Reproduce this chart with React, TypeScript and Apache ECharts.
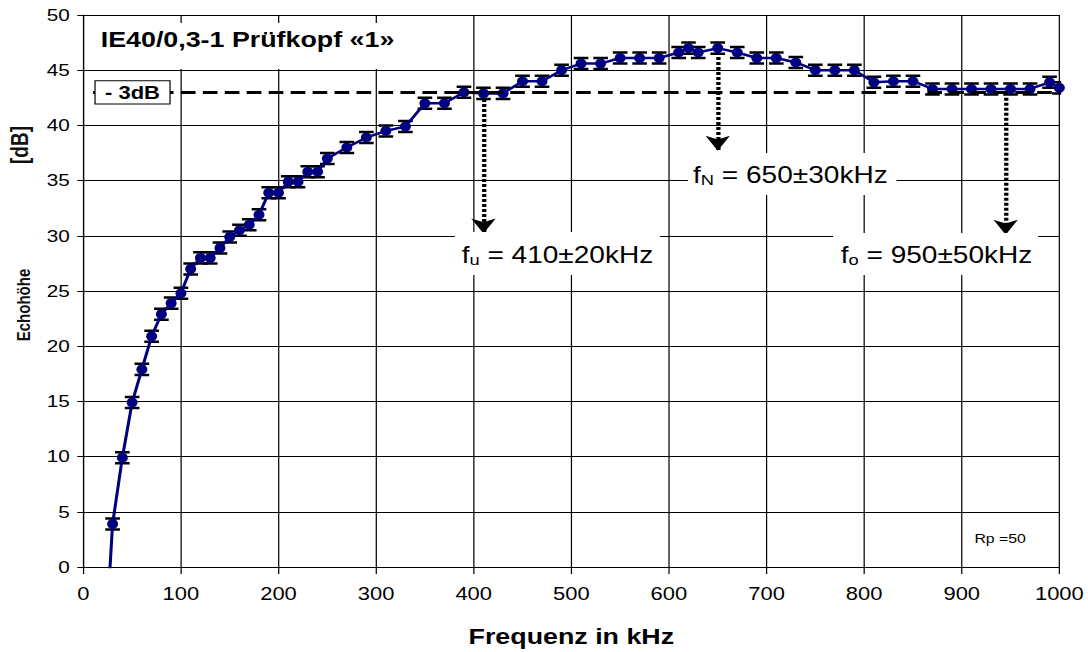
import React, { useEffect, useRef } from 'react';
import * as echarts from 'echarts';

// Horizontal stretch of the reference (it was widened), reproduced with a CSS scale
const CANVAS_W = 892;
const CANVAS_H = 652;
const STRETCH = 1088 / CANVAS_W;
const FONT = '"Liberation Sans", Arial, Helvetica, sans-serif';

const TITLE = 'IE40/0,3-1 Prüfkopf «1»';
const X_NAME = 'Frequenz in kHz';
const Y_NAME_PARTS = ['Echohöhe', '[dB]'];
const RP_NOTE = 'Rp =50';
const THRESHOLD_LABEL = '- 3dB';

const FREQ_KHZ = [
  20, 30, 40, 50, 60, 70, 80, 90, 100, 110, 120, 130, 140, 150, 160, 170, 180, 190, 200, 210,
  220, 230, 240, 250, 270, 290, 310, 330, 350, 370, 390, 410, 430, 450, 470, 490, 510, 530,
  550, 570, 590, 610, 620, 630, 650, 670, 690, 710, 730, 750, 770, 790, 810, 830, 850, 870,
  890, 910, 930, 950, 970, 990, 1000,
];
const LEVEL_DB = [
  -11, 3.9, 9.9, 14.9, 17.9, 20.9, 22.9, 23.9, 24.8, 27.0, 28.0, 28.0, 28.9, 29.9, 30.5, 31.0, 31.9, 33.9, 33.9, 34.9,
  34.9, 35.8, 35.8, 37.0, 38.0, 38.9, 39.5, 39.9, 42.0, 42.0, 43.0, 42.9, 42.9, 44.0, 44.0, 45.0, 45.6, 45.6,
  46.1, 46.1, 46.1, 46.6, 47.0, 46.6, 47.0, 46.6, 46.1, 46.1, 45.7, 45.0, 45.0, 45.0, 43.9, 44.0, 44.0, 43.3,
  43.3, 43.3, 43.3, 43.3, 43.3, 43.9, 43.4,
];
const ERROR_DB = 0.5;

const THRESHOLD_DB = 43;
const THRESHOLD_FROM_KHZ = 10;
const THRESHOLD_TO_KHZ = 1000;

// marker arrows: frequency, start level, end level
const ARROW_FREQ = [410, 650, 945];
const ARROW_FROM = [42.4, 46.2, 42.5];
const ARROW_TO = [30.2, 37.7, 30.1];

// annotation texts: main letter, subscript, rest
const NOTE_SUB = ['u', 'N', 'o'];
const NOTE_REST = [' = 410±20kHz', ' = 650±30kHz', ' = 950±50kHz'];

export default function App() {
  const ref = useRef<HTMLDivElement>(null);

  useEffect(() => {
    if (!ref.current) return;
    const chart = echarts.init(ref.current, undefined, { renderer: 'svg' });

    const lineData = FREQ_KHZ.map((f, i) => [f, LEVEL_DB[i]]);
    const errData = FREQ_KHZ.map((f, i) => [f, LEVEL_DB[i], ERROR_DB]);

    const markLines: any[] = [
      [
        { coord: [THRESHOLD_FROM_KHZ, THRESHOLD_DB], symbol: 'none', lineStyle: { type: [12, 6], width: 3, color: '#000' } },
        { coord: [THRESHOLD_TO_KHZ, THRESHOLD_DB], symbol: 'none' },
      ],
    ];
    ARROW_FREQ.forEach((f, i) => {
      markLines.push([
        { coord: [f, ARROW_FROM[i]], symbol: 'none', lineStyle: { type: [3, 2], width: 3.5, color: '#000' } },
        { coord: [f, ARROW_TO[i]], symbol: 'arrow', symbolSize: 15 },
      ]);
    });

    const boxes = [
      { x: 373, y: 232, w: 168, h: 43, tx: 378.5, ty: 255 },
      { x: 564, y: 153, w: 171, h: 42, tx: 568.2, ty: 174.5 },
      { x: 683, y: 233, w: 168, h: 42, tx: 689.3, ty: 255 },
    ];

    const graphic: any[] = [];
    // title
    graphic.push({ type: 'rect', z: 100, shape: { x: 72, y: 23, width: 264, height: 46 }, style: { fill: '#fff' } });
    graphic.push({
      type: 'text', z: 101, x: 82.6, y: 39,
      style: { text: TITLE, fontFamily: FONT, fontSize: 22, fontWeight: 'bold', fill: '#000', align: 'left', verticalAlign: 'middle' },
    });
    // -3dB label
    graphic.push({
      type: 'rect', z: 100, shape: { x: 77.9, y: 80.7, width: 61.5, height: 23.3 },
      style: { fill: '#fff', stroke: '#000', lineWidth: 1 },
    });
    graphic.push({
      type: 'text', z: 101, x: 108.6, y: 92.5,
      style: { text: THRESHOLD_LABEL, fontFamily: FONT, fontSize: 18, fontWeight: 'bold', fill: '#000', align: 'center', verticalAlign: 'middle' },
    });
    // annotations
    boxes.forEach((b, i) => {
      graphic.push({ type: 'rect', z: 100, shape: { x: b.x, y: b.y, width: b.w, height: b.h }, style: { fill: '#fff' } });
      graphic.push({
        type: 'text', z: 101, x: b.tx, y: b.ty,
        style: {
          text: `{m|f}{s|${NOTE_SUB[i]}}{m|${NOTE_REST[i]}}`,
          align: 'left', verticalAlign: 'middle',
          rich: {
            m: { fontFamily: FONT, fontSize: 23, fill: '#000', lineHeight: 26 },
            s: { fontFamily: FONT, fontSize: 15, fill: '#000', lineHeight: 20, verticalAlign: 'bottom' },
          },
        },
      });
    });
    // Rp note
    graphic.push({
      type: 'text', z: 101, x: 820, y: 539,
      style: { text: RP_NOTE, fontFamily: FONT, fontSize: 13, fill: '#000', align: 'center', verticalAlign: 'middle' },
    });
    // y axis name (rotated)
    graphic.push({
      type: 'text', z: 101, x: 19.7, y: 305, rotation: Math.PI / 2,
      style: { text: Y_NAME_PARTS[0], fontFamily: FONT, fontSize: 15, fontWeight: 'bold', fill: '#111', align: 'center', verticalAlign: 'middle' },
    });
    graphic.push({
      type: 'text', z: 101, x: 16.4, y: 145, rotation: Math.PI / 2,
      style: { text: Y_NAME_PARTS[1], fontFamily: FONT, fontSize: 19, fontWeight: 'bold', fill: '#111', align: 'center', verticalAlign: 'middle' },
    });

    chart.setOption({
      animation: false,
      textStyle: { fontFamily: FONT },
      grid: { left: 68.3, right: 23.5, top: 15, bottom: 83.7, show: false },
      xAxis: {
        type: 'value', min: 0, max: 1000, interval: 100,
        name: X_NAME, nameLocation: 'middle', nameGap: 58,
        nameTextStyle: { fontFamily: FONT, fontSize: 22, fontWeight: 'bold', color: '#000' },
        axisLine: { show: true, lineStyle: { color: '#000', width: 1 } },
        axisTick: { show: true, length: 7, lineStyle: { color: '#000', width: 1 } },
        axisLabel: { fontFamily: FONT, fontSize: 18, color: '#000', margin: 18, formatter: (v: number) => String(v) },
        splitLine: { show: true, lineStyle: { color: '#000', width: 1 } },
      },
      yAxis: {
        type: 'value', min: 0, max: 50, interval: 5,
        axisLine: { show: true, lineStyle: { color: '#000', width: 1 } },
        axisTick: { show: true, length: 5, lineStyle: { color: '#000', width: 1 } },
        axisLabel: { fontFamily: FONT, fontSize: 17, color: '#000', margin: 11, formatter: (v: number) => String(v) },
        splitLine: { show: true, lineStyle: { color: '#000', width: 1 } },
      },
      series: [
        {
          type: 'custom',
          z: 3,
          clip: true,
          data: errData,
          renderItem: (params: any, api: any) => {
            const x = api.value(0);
            const y = api.value(1);
            const e = api.value(2);
            const top = api.coord([x, y + e]);
            const bot = api.coord([x, y - e]);
            const hw = 6;
            const st = { stroke: '#000', lineWidth: 2.5 };
            return {
              type: 'group',
              children: [
                { type: 'line', shape: { x1: top[0], y1: top[1], x2: bot[0], y2: bot[1] }, style: { stroke: '#000', lineWidth: 1.5 } },
                { type: 'line', shape: { x1: top[0] - hw, y1: top[1], x2: top[0] + hw, y2: top[1] }, style: st },
                { type: 'line', shape: { x1: bot[0] - hw, y1: bot[1], x2: bot[0] + hw, y2: bot[1] }, style: st },
              ],
            };
          },
        },
        {
          type: 'line',
          z: 4,
          data: lineData,
          symbol: 'circle',
          symbolSize: [9, 10],
          showAllSymbol: true,
          itemStyle: { color: '#000080' },
          lineStyle: { color: '#000080', width: 2.5 },
          markLine: {
            silent: true,
            animation: false,
            symbol: ['none', 'none'],
            symbolSize: 15,
            label: { show: false },
            emphasis: { disabled: true },
            lineStyle: { color: '#000' },
            data: markLines,
          },
        },
      ],
      graphic,
    });

    return () => chart.dispose();
  }, []);

  return (
    <div
      ref={ref}
      style={{
        position: 'absolute',
        left: 0,
        top: 0,
        width: CANVAS_W,
        height: CANVAS_H,
        transform: `scaleX(${STRETCH})`,
        transformOrigin: '0 0',
        background: '#fff',
      }}
    />
  );
}
